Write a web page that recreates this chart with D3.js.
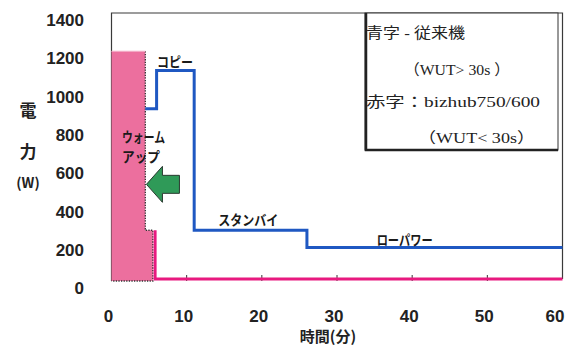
<!DOCTYPE html>
<html>
<head>
<meta charset="utf-8">
<script src="https://cdn.jsdelivr.net/npm/d3@7"></script>
<style>
  html, body { margin: 0; padding: 0; background: #fff; }
  svg { display: block; }
</style>
</head>
<body>
<svg id="chart" width="566" height="347"></svg>
<script>
// Time axis (minutes) and power axis (W)
const xTickValues = [0, 10, 20, 30, 40, 50, 60];
const yTickValues = [0, 200, 400, 600, 800, 1000, 1200, 1400];

// Conventional machine (blue): step profile, each value holds until the next time
const conventionalTime  = [4.5, 6, 11, 26, 60];
const conventionalPower = [900, 1100, 265, 175, 175];

// bizhub750/600 (red): warm-up block, then low-power line
const bizhubWarmTime  = [0, 4.5, 5.5];
const bizhubWarmPower = [1200, 265, 265];
const bizhubLineTime  = [5.8, 60];
const bizhubLinePower = [265, 10];

// Phase annotations
const phaseLabels = [
  { text: "コピー",     t: 8.45, w: 1144, len: 36, anchor: "middle" },
  { text: "ウォーム",   t: 1.4,  w: 752,  len: 43, anchor: "start" },
  { text: "アップ",     t: 1.4,  w: 648,  len: 38, anchor: "start" },
  { text: "スタンバイ", t: 18.2, w: 319,  len: 60, anchor: "middle" },
  { text: "ローパワー", t: 39.0, w: 214,  len: 56, anchor: "middle" }
];

// Legend lines
const legendLines = [
  { text: "青字 - 従来機",          x: 366, y: 33,  len: 99 },
  { text: "（WUT> 30s ）",          x: 404, y: 70,  len: 106 },
  { text: "赤字：bizhub750/600",    x: 366, y: 102, len: 174 },
  { text: "（WUT< 30s）",           x: 418, y: 138, len: 117 }
];

const svg = d3.select("#chart");
const plotLeft = 111.5, plotRight = 562.5, plotTop = 13, plotBottom = 281;

const x = d3.scaleLinear().domain([0, 60]).range([plotLeft, plotRight]);
const y = d3.scaleLinear().domain([0, 1400]).range([plotBottom, plotTop]);

const numFont = "'Liberation Sans', Arial, sans-serif";
const jpFont = "'Noto Sans CJK JP', sans-serif";

// Plot frame (top, left and right edges)
svg.append("path")
  .attr("d", `M${plotLeft},${plotBottom} V${plotTop} H${plotRight} V${plotBottom - 2}`)
  .attr("fill", "none")
  .attr("stroke", "#3a3a3a")
  .attr("stroke-width", 1.2);

// Warm-up block of bizhub750/600
const warmData = bizhubWarmTime.map((t, i) => [t, bizhubWarmPower[i]]);
const warmArea = d3.area()
  .x(d => x(d[0])).y0(y(0)).y1(d => y(d[1]))
  .curve(d3.curveStepAfter);
svg.append("path")
  .datum(warmData)
  .attr("d", warmArea)
  .attr("fill", "#ec6f9e");

// dotted outline along the block's right side and bottom
const outlinePts = [[4.5, 1200], [4.5, 265], [5.5, 265], [5.5, 0], [0, 0]];
svg.append("path")
  .datum(outlinePts)
  .attr("d", d3.line().x(d => x(d[0])).y(d => y(d[1])))
  .attr("fill", "none")
  .attr("stroke", "#333")
  .attr("stroke-width", 1.3)
  .attr("stroke-dasharray", "1.3,1.3");

// thin lighter edge along the block's top
svg.append("line")
  .attr("x1", x(0)).attr("x2", x(4.5))
  .attr("y1", y(1200)).attr("y2", y(1200))
  .attr("stroke", "#f3a9c4").attr("stroke-width", 1.2);

// Bottom axis ticks
svg.append("g")
  .selectAll("line")
  .data(xTickValues.slice(1, -1))
  .join("line")
  .attr("x1", d => x(d)).attr("x2", d => x(d))
  .attr("y1", y(0) - 6).attr("y2", y(0))
  .attr("stroke", "#333").attr("stroke-width", 1);

// bizhub750/600 line after warm-up
const bizLine = d3.line()
  .x(d => x(d[0])).y(d => y(d[1]))
  .curve(d3.curveStepBefore);
svg.append("path")
  .datum(bizhubLineTime.map((t, i) => [t, bizhubLinePower[i]]))
  .attr("d", bizLine)
  .attr("fill", "none")
  .attr("stroke", "#e8197f")
  .attr("stroke-width", 3);

// Conventional machine line
const convLine = d3.line()
  .x(d => x(d[0])).y(d => y(d[1]))
  .curve(d3.curveStepAfter);
svg.append("path")
  .datum(conventionalTime.map((t, i) => [t, conventionalPower[i]]))
  .attr("d", convLine)
  .attr("fill", "none")
  .attr("stroke", "#1f58c2")
  .attr("stroke-width", 3);

// Arrow pointing to the shorter warm-up
const ax = x(4.65), ay = y(505);
svg.append("path")
  .attr("d", `M${ax},${ay} L${ax + 16},${ay - 18} L${ax + 16},${ay - 9} L${ax + 33},${ay - 9} L${ax + 33},${ay + 9} L${ax + 16},${ay + 9} L${ax + 16},${ay + 18} Z`)
  .attr("fill", "#2f9a58")
  .attr("stroke", "#2a3a30")
  .attr("stroke-width", 1);

// Phase labels
svg.append("g")
  .selectAll("text")
  .data(phaseLabels)
  .join("text")
  .attr("x", d => x(d.t))
  .attr("y", d => y(d.w))
  .attr("dy", "0.36em")
  .attr("text-anchor", d => d.anchor)
  .attr("textLength", d => d.len)
  .attr("lengthAdjust", "spacingAndGlyphs")
  .attr("font-family", jpFont)
  .attr("font-weight", "bold")
  .attr("font-size", 14)
  .attr("fill", "#1a1a1a")
  .text(d => d.text);

// Legend box
svg.append("rect")
  .attr("x", 365).attr("y", plotTop)
  .attr("width", 193).attr("height", 137)
  .attr("fill", "#fff")
  .attr("stroke", "#333").attr("stroke-width", 1);
svg.append("path")
  .attr("d", `M366,${plotTop} V150 H558`)
  .attr("fill", "none")
  .attr("stroke", "#222").attr("stroke-width", 2.5);

svg.append("g")
  .selectAll("text")
  .data(legendLines)
  .join("text")
  .attr("x", d => d.x)
  .attr("y", d => d.y)
  .attr("dy", "0.36em")
  .attr("textLength", d => d.len)
  .attr("lengthAdjust", "spacingAndGlyphs")
  .attr("font-family", "'Liberation Serif', 'Noto Sans CJK JP', serif")
  .attr("font-size", 15)
  .attr("fill", "#222")
  .text(d => d.text);

// Y tick labels
svg.append("g")
  .selectAll("text")
  .data(yTickValues)
  .join("text")
  .attr("x", 84)
  .attr("y", d => y(d) + 7)
  .attr("dy", "0.36em")
  .attr("text-anchor", "end")
  .attr("font-family", numFont)
  .attr("font-weight", "bold")
  .attr("font-size", 17)
  .attr("fill", "#222")
  .text(d => d);

// X tick labels (the last one kept inside the page edge)
svg.append("g")
  .selectAll("text")
  .data(xTickValues)
  .join("text")
  .attr("x", d => Math.min(x(d) - 3, 555))
  .attr("y", 316)
  .attr("dy", "0.36em")
  .attr("text-anchor", "middle")
  .attr("font-family", numFont)
  .attr("font-weight", "bold")
  .attr("font-size", 17)
  .attr("fill", "#222")
  .text(d => d);

// Axis titles
const yTitle = svg.append("g").attr("font-family", jpFont).attr("font-weight", "bold").attr("fill", "#222");
yTitle.append("text").attr("x", 28).attr("y", 111).attr("dy", "0.36em").attr("text-anchor", "middle").attr("font-size", 17).text("電");
yTitle.append("text").attr("x", 28).attr("y", 152).attr("dy", "0.36em").attr("text-anchor", "middle").attr("font-size", 17).text("力");
yTitle.append("text").attr("x", 28).attr("y", 183).attr("dy", "0.36em").attr("text-anchor", "middle").attr("font-size", 14).text("(W)");

svg.append("text")
  .attr("x", 328).attr("y", 337)
  .attr("dy", "0.36em")
  .attr("text-anchor", "middle")
  .attr("font-family", jpFont)
  .attr("font-weight", "bold")
  .attr("font-size", 15)
  .attr("fill", "#222")
  .text("時間(分)");
</script>
</body>
</html>
